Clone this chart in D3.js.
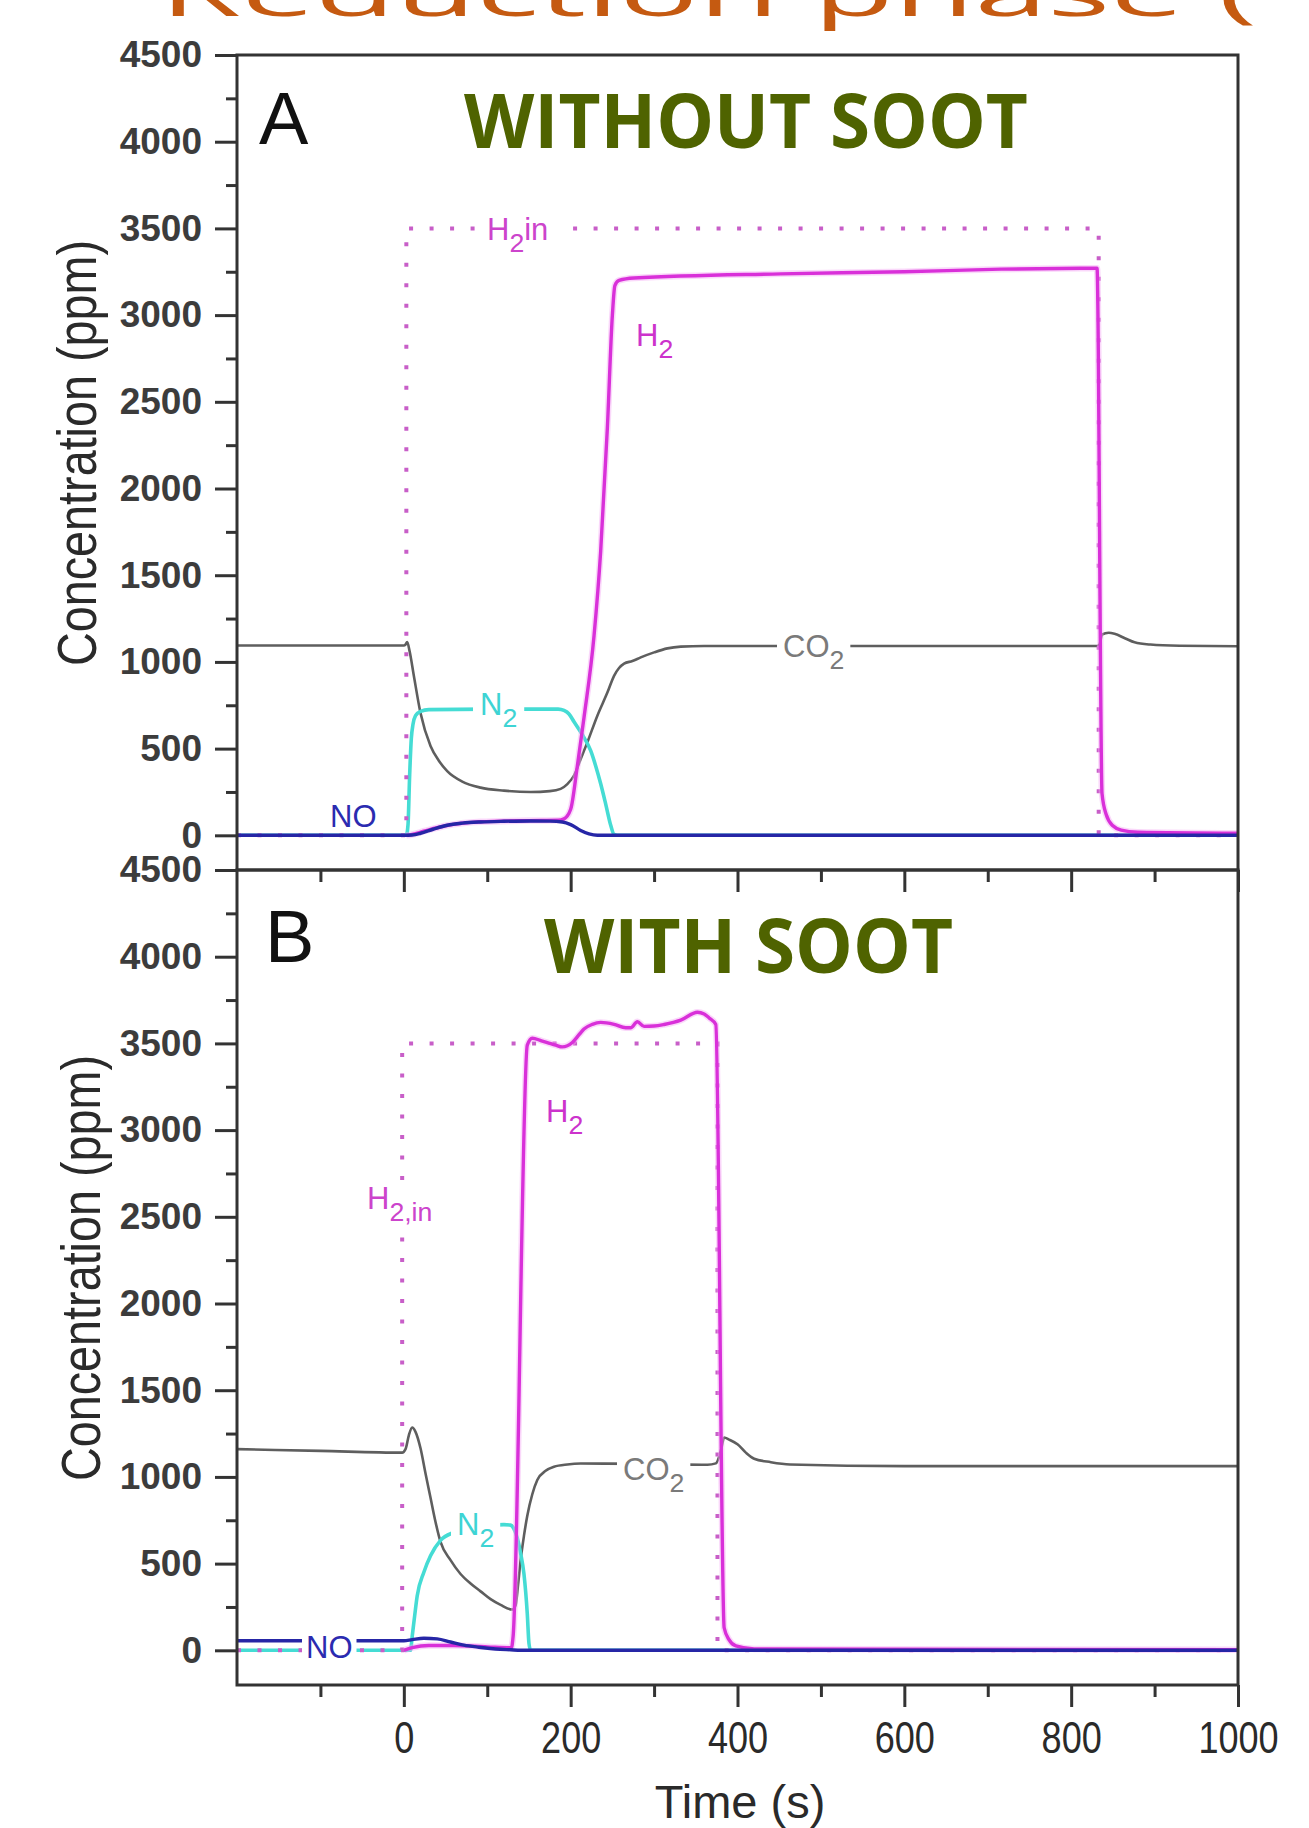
<!DOCTYPE html>
<html>
<head>
<meta charset="utf-8">
<script src="https://cdn.jsdelivr.net/npm/d3@7"></script>
<style>
  body { margin: 0; background: #fff; }
  svg { display: block; }
</style>
</head>
<body>
<svg id="chart" width="1309" height="1828"></svg>
<script>
// ---------- axis ticks ----------
const timeTicksMajor = [0, 200, 400, 600, 800, 1000];
const timeTicksMinor = [-100, 100, 300, 500, 700, 900];
const concTicksMajor = [0, 500, 1000, 1500, 2000, 2500, 3000, 3500, 4000, 4500];
const concTicksMinor = [250, 750, 1250, 1750, 2250, 2750, 3250, 3750, 4250];

// ---------- panel A: without soot  [time (s), ppm] ----------
const noSootH2in = [[-200, 0], [3, 0], [3, 3500], [833, 3500], [833, 0], [1000, 0]];
const noSootCO2 = [[-200, 1095], [-100, 1095], [0, 1095], [2, 1100], [4, 1115], [7, 1060], [12, 920],
  [20, 705], [32, 515], [42, 430], [52, 370], [70, 310], [92, 275], [120, 258], [152, 250], [175, 255],
  [188, 268], [196, 295], [204, 345], [212, 440], [220, 536], [232, 690], [244, 823], [252, 920],
  [258, 965], [264, 990], [274, 1005], [284, 1026], [300, 1055], [316, 1078], [332, 1088], [360, 1092],
  [500, 1092], [700, 1092], [831, 1092], [834, 1100], [837, 1158], [845, 1168], [852, 1162], [865, 1135],
  [876, 1113], [895, 1100], [930, 1093], [1000, 1090]];
const noSootN2 = [[-200, 0], [3, 0], [5, 60], [7, 350], [9, 560], [11, 640], [14, 690], [20, 715],
  [30, 725], [100, 728], [185, 728], [192, 720], [198, 700], [204, 655], [214, 580], [224, 488],
  [230, 400], [236, 297], [242, 180], [248, 58], [252, 5], [256, 0], [1000, 0]];
const noSootNO = [[-200, 0], [0, 0], [10, 2], [20, 12], [35, 35], [52, 58], [70, 70], [92, 77],
  [120, 81], [152, 83], [175, 82], [190, 77], [200, 62], [212, 28], [222, 8], [232, 0], [1000, 0]];
const noSootH2 = [[3, 0], [10, 5], [25, 25], [50, 55], [92, 78], [150, 85], [185, 87],
  [192, 95], [200, 150], [208, 400], [216, 680], [228, 1150], [236, 1640], [244, 2350], [250, 3000],
  [253, 3170], [258, 3200], [276, 3214], [452, 3238], [600, 3250], [716, 3265], [831, 3270],
  [837, 240], [842, 120], [850, 55], [860, 30], [880, 18], [1000, 12]];

// ---------- panel B: with soot ----------
const sootH2in = [[-200, 0], [-2, 0], [-2, 3500], [376, 3500], [376, 0], [1000, 0]];
const sootCO2 = [[-200, 1160], [-100, 1150], [-2, 1140], [2, 1160], [6, 1240], [10, 1285], [14, 1260],
  [20, 1165], [26, 1020], [32, 880], [38, 740], [44, 625], [56, 520], [68, 440], [80, 385], [92, 340],
  [104, 295], [116, 262], [130, 235], [134, 260], [137, 380], [140, 519], [144, 660], [148, 776],
  [154, 900], [160, 982], [170, 1035], [180, 1059], [196, 1072], [212, 1077], [300, 1075], [364, 1070],
  [374, 1078], [380, 1150], [384, 1227], [390, 1215], [400, 1188], [410, 1140], [420, 1105],
  [440, 1085], [463, 1072], [600, 1062], [800, 1062], [1000, 1062]];
const sootN2 = [[-200, 0], [8, 0], [10, 80], [13, 200], [16, 313], [24, 450], [32, 545], [44, 634],
  [60, 680], [80, 705], [100, 718], [120, 725], [128, 722], [132, 700], [136, 648], [140, 560],
  [144, 441], [148, 210], [150, 40], [152, 0], [1000, 0]];
const sootNO = [[-200, 55], [-100, 55], [0, 55], [10, 62], [24, 70], [40, 66], [56, 48], [72, 30],
  [90, 18], [110, 8], [128, 3], [140, 0], [1000, 0]];
const sootH2 = [[0, 0], [10, 15], [30, 28], [60, 28], [100, 20], [129, 15], [131, 80],
  [148, 3490], [154, 3530], [165, 3515], [172, 3505], [182, 3490], [190, 3480], [202, 3505],
  [210, 3550], [216, 3583], [226, 3610], [236, 3621], [252, 3610], [266, 3590], [272, 3590],
  [280, 3625], [288, 3598], [300, 3600], [312, 3609], [332, 3634], [352, 3680], [360, 3670],
  [366, 3647], [374, 3609], [384, 130], [390, 60], [398, 25], [420, 8], [1000, 3]];

// ---------- layout ----------
const svg = d3.select("#chart");
const plotLeft = 237, plotRight = 1238;
const panels = [
  { top: 55, bottom: 870 },
  { top: 870, bottom: 1685 }
];
const colors = {
  h2: "#d930d9", h2Halo: "#f4a8f4", h2in: "#c85ec8",
  co2: "#5e5e5e", n2: "#45dcd4", no: "#2626a6", frame: "#333333"
};

const x = d3.scaleLinear().domain([-200, 1000]).range([plotLeft, plotRight]);
const yScales = panels.map(p => d3.scaleLinear().domain([-200, 4500]).range([p.bottom, p.top]));

// ---------- header text ----------
svg.append("text")
  .attr("x", 160).attr("y", 16)
  .attr("font-family", "'Open Sans', 'Noto Sans', sans-serif")
  .attr("font-size", 62)
  .attr("fill", "#C55A11")
  .attr("textLength", 1097).attr("lengthAdjust", "spacingAndGlyphs")
  .text("Reduction phase (");

function heading(text, xPos, baseline, width) {
  svg.append("text")
    .attr("x", xPos).attr("y", baseline)
    .attr("font-family", "'Open Sans', 'Noto Sans', sans-serif")
    .attr("font-weight", "bold")
    .attr("font-size", 76)
    .attr("fill", "#4f6300")
    .attr("textLength", width).attr("lengthAdjust", "spacingAndGlyphs")
    .text(text);
}

// ---------- axes ----------
function styleAxis(g) {
  g.select(".domain").remove();
  g.selectAll(".tick line").attr("stroke", colors.frame).attr("stroke-width", 3);
}

function drawAxes(i, withTimeLabels) {
  const p = panels[i], y = yScales[i];
  const g = svg.append("g");

  g.append("g").attr("transform", `translate(${plotLeft},0)`)
    .call(d3.axisLeft(y).tickValues(concTicksMinor).tickSize(11).tickFormat(""))
    .call(styleAxis);
  const yAx = g.append("g").attr("transform", `translate(${plotLeft},0)`)
    .call(d3.axisLeft(y).tickValues(concTicksMajor).tickSize(22).tickPadding(13).tickFormat(d3.format("d")))
    .call(styleAxis);
  yAx.selectAll(".tick text")
    .attr("font-family", "'Liberation Sans', Arial, sans-serif")
    .attr("font-weight", "bold")
    .attr("font-size", 37)
    .attr("fill", "#3c3c3c");

  g.append("g").attr("transform", `translate(0,${p.bottom})`)
    .call(d3.axisBottom(x).tickValues(timeTicksMinor).tickSize(12).tickFormat(""))
    .call(styleAxis);
  const xAx = g.append("g").attr("transform", `translate(0,${p.bottom})`)
    .call(d3.axisBottom(x).tickValues(timeTicksMajor).tickSize(22).tickPadding(15)
      .tickFormat(withTimeLabels ? d3.format("d") : ""))
    .call(styleAxis);
  xAx.selectAll(".tick text")
    .attr("font-family", "'Liberation Sans', Arial, sans-serif")
    .attr("font-size", 44)
    .attr("fill", "#2a2a2a")
    .attr("transform", "scale(0.82,1)");

  // frame
  g.append("rect")
    .attr("x", plotLeft).attr("y", p.top)
    .attr("width", plotRight - plotLeft).attr("height", p.bottom - p.top)
    .attr("fill", "none").attr("stroke", colors.frame).attr("stroke-width", 3);
}

// ---------- series ----------
const smooth = y => d3.line().x(d => x(d[0])).y(d => y(d[1])).curve(d3.curveMonotoneX);
const straight = y => d3.line().x(d => x(d[0])).y(d => y(d[1]));

function drawSeries(i, s) {
  const y = yScales[i];
  const g = svg.append("g");
  g.append("path").datum(s.co2).attr("d", smooth(y))
    .attr("fill", "none").attr("stroke", colors.co2).attr("stroke-width", 2.6);
  g.append("path").datum(s.n2).attr("d", smooth(y))
    .attr("fill", "none").attr("stroke", colors.n2).attr("stroke-width", 3.6);
  g.append("path").datum(s.h2in).attr("d", straight(y))
    .attr("fill", "none").attr("stroke", colors.h2in).attr("stroke-width", 4)
    .attr("stroke-dasharray", "4 16.5");
  g.append("path").datum(s.h2).attr("d", smooth(y))
    .attr("fill", "none").attr("stroke", colors.h2Halo).attr("stroke-width", 6.5).attr("opacity", 0.45);
  g.append("path").datum(s.h2).attr("d", smooth(y))
    .attr("fill", "none").attr("stroke", colors.h2).attr("stroke-width", 3.4);
  g.append("path").datum(s.no).attr("d", smooth(y))
    .attr("fill", "none").attr("stroke", colors.no).attr("stroke-width", 3.4);
}

// curve label with white backing box; parts: [text, isSubscript]
function curveLabel(xPos, baseline, parts, color, size, padX = 6, padY = 1) {
  const g = svg.append("g");
  const t = g.append("text")
    .attr("x", xPos).attr("y", baseline)
    .attr("font-family", "'Liberation Sans', Arial, sans-serif")
    .attr("font-size", size).attr("fill", color);
  let shift = 0;
  parts.forEach(([str, sub]) => {
    const target = sub ? size * 0.4 : 0;
    t.append("tspan").attr("dy", target - shift)
      .attr("font-size", sub ? size * 0.86 : size).text(str);
    shift = target;
  });
  const bb = t.node().getBBox();
  g.insert("rect", "text")
    .attr("x", bb.x - padX).attr("y", bb.y + 3 - padY)
    .attr("width", bb.width + 2 * padX).attr("height", bb.height - 6 + 2 * padY)
    .attr("fill", "#fff");
}

function yTitle(cy, baselineX) {
  svg.append("text")
    .attr("transform", `translate(${baselineX},${cy}) rotate(-90) scale(0.85,1)`)
    .attr("text-anchor", "middle")
    .attr("font-family", "'Liberation Sans', Arial, sans-serif")
    .attr("font-size", 55).attr("fill", "#2a2a2a")
    .text("Concentration (ppm)");
}

// ---------- draw ----------
drawSeries(0, { h2in: noSootH2in, co2: noSootCO2, n2: noSootN2, h2: noSootH2, no: noSootNO });
drawSeries(1, { h2in: sootH2in, co2: sootCO2, n2: sootN2, h2: sootH2, no: sootNO });

// labels on panel A
curveLabel(487, 240, [["H", false], ["2", true], ["in", false]], "#cc44cc", 31, 10);
curveLabel(636, 346, [["H", false], ["2", true]], "#cc33cc", 31);
curveLabel(480, 715, [["N", false], ["2", true]], "#3ed4d4", 31, 7);
curveLabel(783, 657, [["CO", false], ["2", true]], "#7a7a7a", 31, 6);
curveLabel(330, 827, [["NO", false]], "#2b2bb0", 31, 2, 0);

// labels on panel B
curveLabel(367, 1209, [["H", false], ["2,in", true]], "#cc44cc", 31, 3);
curveLabel(546, 1122, [["H", false], ["2", true]], "#cc33cc", 31);
curveLabel(457, 1535, [["N", false], ["2", true]], "#3ed4d4", 31, 6);
curveLabel(623, 1480, [["CO", false], ["2", true]], "#7a7a7a", 31, 6);
curveLabel(306, 1658, [["NO", false]], "#2b2bb0", 31, 4);

drawAxes(0, false);
drawAxes(1, true);

// panel letters and headings
svg.append("text").attr("x", 259).attr("y", 144)
  .attr("font-family", "'Liberation Sans', Arial, sans-serif").attr("font-size", 74).attr("fill", "#111").text("A");
svg.append("text").attr("x", 265).attr("y", 962)
  .attr("font-family", "'Liberation Sans', Arial, sans-serif").attr("font-size", 74).attr("fill", "#111").text("B");
heading("WITHOUT SOOT", 464, 148, 564);
heading("WITH SOOT", 544, 973, 409);

yTitle(453, 96);
yTitle(1268, 100);

svg.append("text")
  .attr("x", 740).attr("y", 1818)
  .attr("text-anchor", "middle")
  .attr("font-family", "'Liberation Sans', Arial, sans-serif")
  .attr("font-size", 47).attr("fill", "#2a2a2a")
  .text("Time (s)");
</script>
</body>
</html>
